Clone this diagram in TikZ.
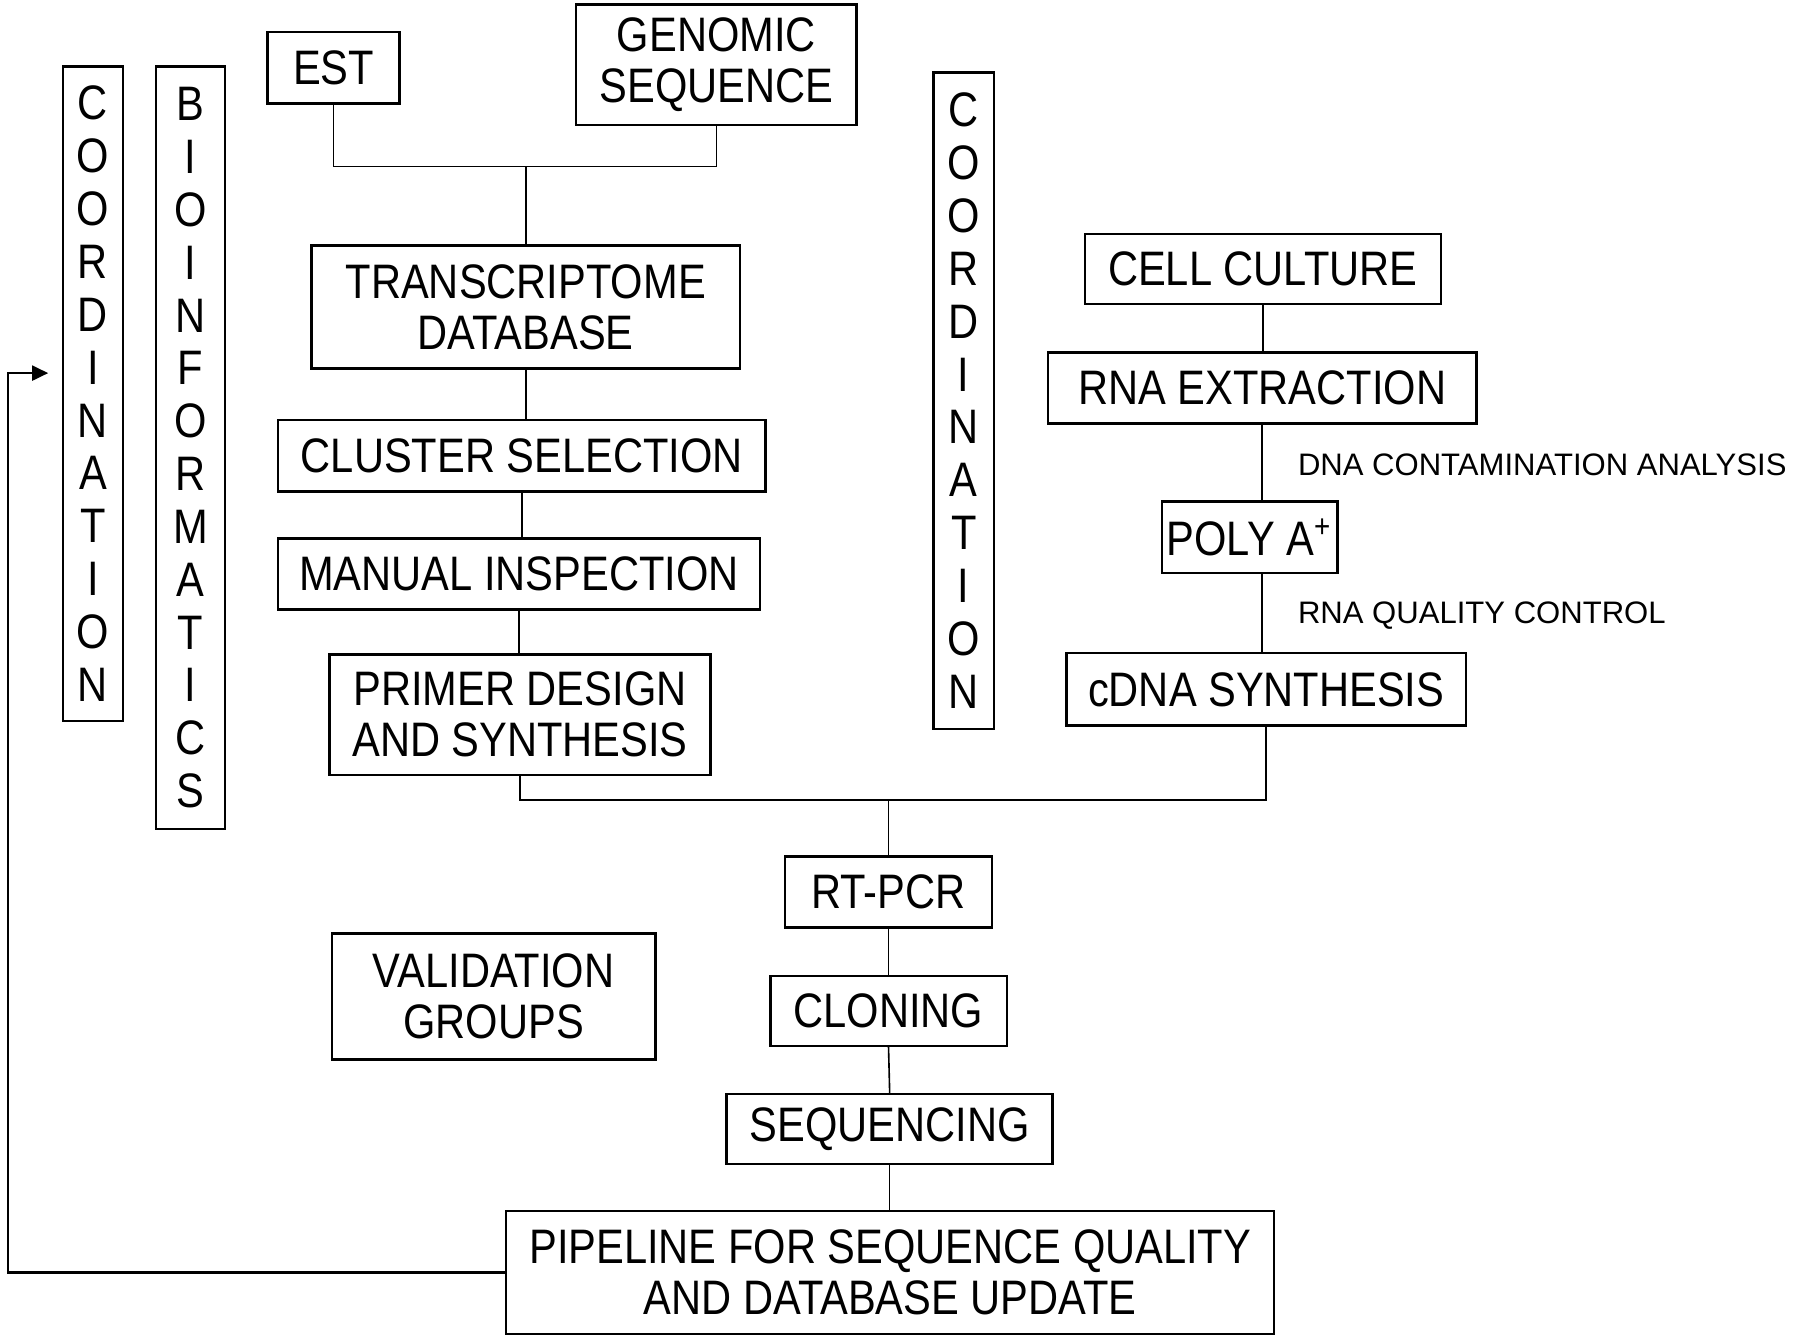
\documentclass[tikz,border=0pt]{standalone}
\usepackage{fontspec}
\setmainfont{Liberation Sans}[FakeStretch=0.86]
\newfontfamily\notefont{Liberation Sans}
\usetikzlibrary{arrows.meta}
\tikzset{
  step_box/.style = {rectangle, draw=black, line width=0.6pt, inner sep=0pt,
    align=center, font=\fontsize{12}{12.6}\selectfont},% etape du protocole
  side_box/.style = {step_box, font=\fontsize{12}{13.1}\selectfont},% bandeau vertical
  boxsize/.style 2 args = {minimum width=#1cm, minimum height=#2cm},
  note_text/.style = {inner sep=0pt, anchor=west,
    font=\notefont\fontsize{7.7}{9}\selectfont},% controle qualite
  link/.style = {line width=0.4pt},
  back_link/.style = {line width=0.6pt, -{Triangle[length=1.4mm, width=1.3mm]}}
}

\begin{document}
\begin{tikzpicture}
    \useasboundingbox (0,0) rectangle (15.68,-11.65);
    % bandeaux verticaux
    \node [side_box, boxsize={0.52}{5.70}] (coord_left) at (0.81,-3.43)
      {C\\O\\O\\R\\D\\I\\N\\A\\T\\I\\O\\N};
    \node [side_box, boxsize={0.60}{6.64}] (bioinf) at (1.66,-3.90)
      {B\\I\\O\\I\\N\\F\\O\\R\\M\\A\\T\\I\\C\\S};
    \node [side_box, boxsize={0.53}{5.72}] (coord_right) at (8.395,-3.49)
      {C\\O\\O\\R\\D\\I\\N\\A\\T\\I\\O\\N};
    % partie bioinformatique
    \node [step_box, boxsize={1.15}{0.62}] (est) at (2.905,-0.59) {EST};
    \node [step_box, boxsize={2.44}{1.05}] (genomic) at (6.24,-0.565) {GENOMIC\\SEQUENCE};
    \node [step_box, boxsize={3.73}{1.07}] (transcriptome) at (4.58,-2.675) {TRANSCRIPTOME\\DATABASE};
    \node [step_box, boxsize={4.25}{0.62}] (cluster) at (4.545,-3.97) {CLUSTER SELECTION};
    \node [step_box, boxsize={4.20}{0.62}] (manual) at (4.52,-5.00) {MANUAL INSPECTION};
    \node [step_box, boxsize={3.32}{1.05}] (primer) at (4.53,-6.225) {PRIMER DESIGN\\AND SYNTHESIS};
    % partie laboratoire
    \node [step_box, boxsize={3.10}{0.61}] (culture) at (11.00,-2.345) {CELL CULTURE};
    \node [step_box, boxsize={3.73}{0.62}] (extraction) at (10.995,-3.38) {RNA EXTRACTION};
    \node [step_box, boxsize={1.53}{0.62}] (polya) at (10.885,-4.68) {POLY A\textsuperscript{+}};
    \node [step_box, boxsize={3.48}{0.63}] (cdna) at (11.03,-6.005) {cDNA SYNTHESIS};
    \node [note_text] (contamination) at (11.30,-4.05) {DNA CONTAMINATION ANALYSIS};
    \node [note_text] (quality) at (11.30,-5.36) {RNA QUALITY CONTROL};
    % validation
    \node [step_box, boxsize={1.80}{0.62}] (rtpcr) at (7.74,-7.77) {RT-PCR};
    \node [step_box, boxsize={2.06}{0.61}] (cloning) at (7.74,-8.805) {CLONING};
    \node [step_box, boxsize={2.84}{0.61}] (sequencing) at (7.75,-9.835) {SEQUENCING};
    \node [step_box, boxsize={6.69}{1.07}] (pipeline) at (7.755,-11.085)
      {PIPELINE FOR SEQUENCE QUALITY\\AND DATABASE UPDATE};
    \node [step_box, boxsize={2.82}{1.10}] (validation) at (4.30,-8.68) {VALIDATION\\GROUPS};
    % liaisons
    \path (transcriptome.north) ++(0,0.68) coordinate (top_join);
    \path (rtpcr.north) ++(0,0.48) coordinate (mid_join);
    \coordinate (coord_in) at (0.42,-3.25);
    \draw [link] (est.south) |- (top_join) -| (genomic.south);
    \draw [link] (top_join) -- (transcriptome.north);
    \draw [link] (transcriptome.south) -- (transcriptome.south |- cluster.north);
    \draw [link] (cluster.south) -- (cluster.south |- manual.north);
    \draw [link] (manual.south) -- (manual.south |- primer.north);
    \draw [link] (culture.south) -- (culture.south |- extraction.north);
    \draw [link] (extraction.south) -- (extraction.south |- polya.north);
    \draw [link] (extraction.south |- polya.south) -- (extraction.south |- cdna.north);
    \draw [link] (primer.south) |- (mid_join) -| (cdna.south);
    \draw [link] (mid_join) -- (rtpcr.north);
    \draw [link] (rtpcr.south) -- (cloning.north);
    \draw [link] (cloning.south) -- (sequencing.north);
    \draw [link] (sequencing.south) -- (sequencing.south |- pipeline.north);
    \draw [back_link] (pipeline.west) -| ([xshift=-0.35cm]coord_in) -- (coord_in);
\end{tikzpicture}
\end{document}
